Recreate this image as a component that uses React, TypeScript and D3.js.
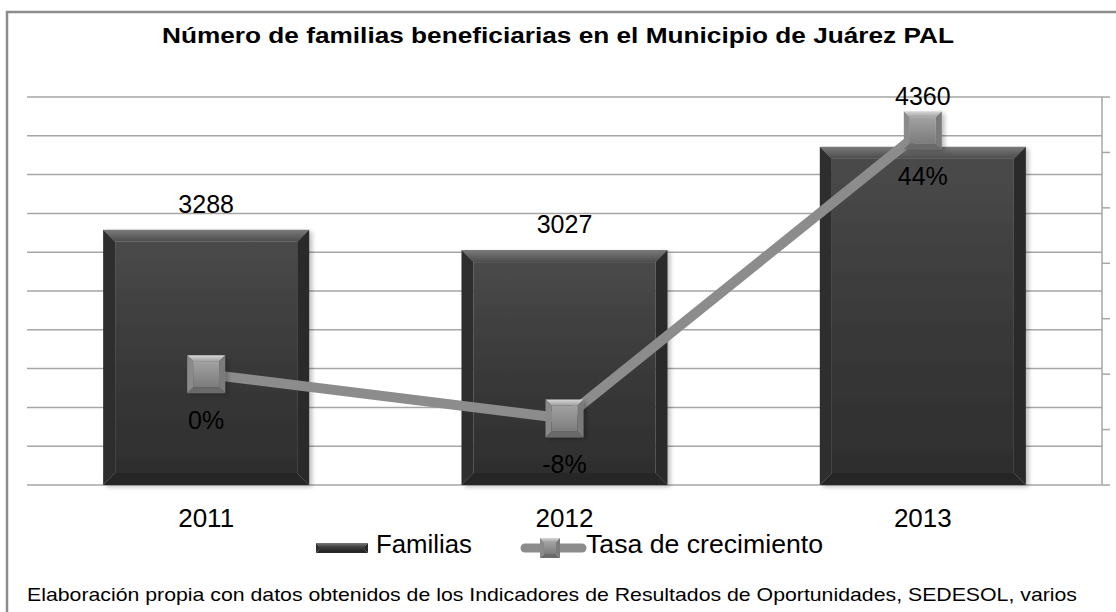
import React from "react";
import * as d3 from "d3";

const years = ["2011", "2012", "2013"];
const familias = [3288, 3027, 4360];
const tasa = [0, -0.08, 0.44];
const tasaLabels = ["0%", "-8%", "44%"];
const title = "Número de familias beneficiarias en el Municipio de Juárez PAL";
const footer =
  "Elaboración propia con datos obtenidos de los Indicadores de Resultados  de Oportunidades, SEDESOL, varios";
const legendNames = ["Familias", "Tasa de crecimiento"];

const W = 1116;
const H = 612;
const FONT = "'Liberation Sans', Arial, sans-serif";

export default function App() {
  const x = d3
    .scaleBand<string>()
    .domain(years)
    .range([27, 1102])
    .paddingInner(0.425)
    .paddingOuter(0.2125);
  const yL = d3.scaleLinear().domain([0, 5000]).range([485, 97]);
  const yR = d3.scaleLinear().domain([-0.2, 0.5]).range([485, 97]);
  const gridTicks = yL.ticks(10);
  const rTicks = d3.range(-0.2, 0.5001, 0.1);
  const bw = x.bandwidth();
  const cx = (d: string) => (x(d) as number) + bw / 2;
  const lineGen = d3
    .line<number>()
    .x((_, i) => cx(years[i]))
    .y((v) => yR(v));
  const ms = 38;
  const bev = 12;

  const bevelRect = (
    x0: number,
    y0: number,
    w: number,
    h: number,
    b: number,
    fills: { top: string; left: string; right: string; bottom: string; inner: string },
    key: string
  ) => {
    const x1 = x0 + w;
    const y1 = y0 + h;
    return (
      <g key={key}>
        <polygon points={`${x0},${y0} ${x1},${y0} ${x1 - b},${y0 + b} ${x0 + b},${y0 + b}`} fill={fills.top} />
        <polygon points={`${x0},${y0} ${x0 + b},${y0 + b} ${x0 + b},${y1 - b} ${x0},${y1}`} fill={fills.left} />
        <polygon points={`${x1},${y0} ${x1},${y1} ${x1 - b},${y1 - b} ${x1 - b},${y0 + b}`} fill={fills.right} />
        <polygon points={`${x0},${y1} ${x0 + b},${y1 - b} ${x1 - b},${y1 - b} ${x1},${y1}`} fill={fills.bottom} />
        <rect x={x0 + b} y={y0 + b} width={w - 2 * b} height={h - 2 * b} fill={fills.inner} />
      </g>
    );
  };

  const barFills = {
    top: "url(#barTop)",
    left: "#2f2f2f",
    right: "#2a2a2a",
    bottom: "#262626",
    inner: "url(#barInner)",
  };
  const markFills = {
    top: "url(#mkTop)",
    left: "#8a8a8a",
    right: "#7a7a7a",
    bottom: "#6a6a6a",
    inner: "url(#mkInner)",
  };

  return (
    <svg
      width={W}
      height={H}
      style={{ position: "absolute", left: 0, top: 0, background: "#fff" }}
      fontFamily={FONT}
    >
      <defs>
        <linearGradient id="barTop" x1="0" y1="0" x2="0" y2="1">
          <stop offset="0" stopColor="#7a7a7a" />
          <stop offset="1" stopColor="#4c4c4c" />
        </linearGradient>
        <linearGradient id="barInner" x1="0" y1="0" x2="0" y2="1">
          <stop offset="0" stopColor="#4a4a4a" />
          <stop offset="0.5" stopColor="#3a3a3a" />
          <stop offset="1" stopColor="#2e2e2e" />
        </linearGradient>
        <linearGradient id="mkTop" x1="0" y1="0" x2="0" y2="1">
          <stop offset="0" stopColor="#d8d8d8" />
          <stop offset="1" stopColor="#a0a0a0" />
        </linearGradient>
        <linearGradient id="mkInner" x1="0" y1="0" x2="0" y2="1">
          <stop offset="0" stopColor="#a2a2a2" />
          <stop offset="1" stopColor="#7c7c7c" />
        </linearGradient>
        <filter id="shadow" x="-10%" y="-10%" width="130%" height="130%">
          <feGaussianBlur in="SourceAlpha" stdDeviation="2" />
          <feOffset dx="3" dy="2" result="ob" />
          <feComponentTransfer>
            <feFuncA type="linear" slope="0.25" />
          </feComponentTransfer>
          <feMerge>
            <feMergeNode />
            <feMergeNode in="SourceGraphic" />
          </feMerge>
        </filter>
      </defs>

      {/* outer border */}
      <rect x={7} y={12} width={1130} height={640} fill="none" stroke="#8c8c8c" strokeWidth={2.5} />

      {/* title */}
      <text
        x={558}
        y={43}
        textAnchor="middle"
        fontSize={22}
        fontWeight="bold"
        textLength={792}
        lengthAdjust="spacingAndGlyphs"
        fill="#000"
      >
        {title}
      </text>

      {/* gridlines */}
      {gridTicks.map((t) => (
        <line key={t} x1={27} x2={1102} y1={yL(t)} y2={yL(t)} stroke="#a6a6a6" strokeWidth={1.5} />
      ))}
      {/* right axis */}
      <line x1={1102} x2={1102} y1={yR(0.5)} y2={yR(-0.2)} stroke="#a6a6a6" strokeWidth={1.5} />
      {rTicks.map((t) => (
        <line key={t} x1={1102} x2={1110} y1={yR(t)} y2={yR(t)} stroke="#a6a6a6" strokeWidth={1.5} />
      ))}

      {/* bars */}
      {years.map((yr, i) => (
        <g key={yr} filter="url(#shadow)">
          {bevelRect(x(yr) as number, yL(familias[i]), bw, yL(0) - yL(familias[i]), bev, barFills, yr)}
        </g>
      ))}

      {/* bar labels */}
      {years.map((yr, i) => {
        const barTop = yL(familias[i]);
        const mkTop = yR(tasa[i]) - ms / 2;
        const overlap = mkTop < barTop && mkTop + ms > barTop - 25;
        const by = overlap ? mkTop - 6 : barTop - 17;
        return (
          <text key={yr} x={cx(yr)} y={by} textAnchor="middle" fontSize={25} fill="#000">
            {familias[i]}
          </text>
        );
      })}

      {/* line */}
      <path d={lineGen(tasa) as string} fill="none" stroke="#8c8c8c" strokeWidth={10} />
      {years.map((yr, i) => (
        <g key={yr} filter="url(#shadow)">
          {bevelRect(cx(yr) - ms / 2, yR(tasa[i]) - ms / 2, ms, ms, 6, markFills, yr)}
        </g>
      ))}
      {years.map((yr, i) => (
        <text key={yr} x={cx(yr)} y={yR(tasa[i]) + 55} textAnchor="middle" fontSize={25} fill="#000">
          {tasaLabels[i]}
        </text>
      ))}

      {/* category labels */}
      {years.map((yr) => (
        <text key={yr} x={cx(yr)} y={527} textAnchor="middle" fontSize={26} fill="#000">
          {yr}
        </text>
      ))}

      {/* legend */}
      <g>
        {bevelRect(316, 543, 52, 10, 3, barFills, "lg1")}
        <text x={376} y={553} fontSize={25} textLength={96} lengthAdjust="spacingAndGlyphs" fill="#000">
          {legendNames[0]}
        </text>
        <line x1={525} x2={582} y1={548} y2={548} stroke="#8c8c8c" strokeWidth={9} strokeLinecap="round" />
        {bevelRect(540, 538, 20, 20, 4, markFills, "lg2")}
        <text x={586} y={553} fontSize={25} textLength={237} lengthAdjust="spacingAndGlyphs" fill="#000">
          {legendNames[1]}
        </text>
      </g>

      {/* footer */}
      <text x={27} y={601} fontSize={19} textLength={1050} lengthAdjust="spacingAndGlyphs" fill="#000">
        {footer}
      </text>
    </svg>
  );
}
